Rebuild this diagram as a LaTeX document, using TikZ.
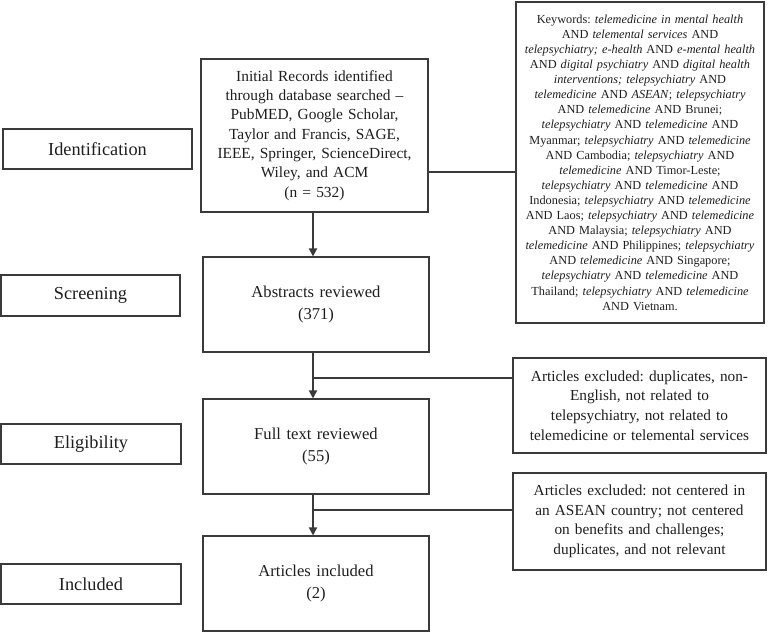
\documentclass[tikz,border=0pt]{standalone}
\usepackage{fontspec}
\setmainfont{Liberation Serif}
\usetikzlibrary{arrows.meta}
\definecolor{ln}{HTML}{3A3A3A}
\definecolor{tx}{HTML}{1E1E1E}
\frenchspacing
\tikzset{
  bx/.style={draw=ln, line width=1.1pt, inner xsep=0pt, inner ysep=0pt, align=center, text=tx},
  stagebox/.style={bx, font=\fontsize{18.3}{22}\selectfont},
  mainbox/.style={bx, font=\fontsize{16.6}{22.5}\selectfont},
  initbox/.style={bx, font=\fontsize{15.4}{19.3}\selectfont},
  kwbox/.style={bx, font=\fontsize{12.3}{15.1}\selectfont},
  exbox/.style={bx, font=\fontsize{15.3}{19.6}\selectfont},
  arr/.style={draw=ln, line width=1.8pt, -{Triangle[length=8pt,width=8pt]}},
  conn/.style={draw=ln, line width=1.1pt},
}
\begin{document}
\begin{tikzpicture}[x=1pt,y=-1pt]
\useasboundingbox (0,0) rectangle (768,632);
% stage labels
\node[stagebox, text width=189pt, minimum height=40pt] (ident) at (97.5,149) {Identification};
\node[stagebox, text width=179pt, minimum height=41pt] (screen) at (90.5,295.5) {Screening};
\node[stagebox, text width=180pt, minimum height=40pt] (elig) at (91,444) {Eligibility};
\node[stagebox, text width=180pt, minimum height=40pt] (incl) at (91,584) {Included};
% main flow
\node[initbox, text width=227pt, minimum height=153pt] (init) at (314.5,135.5) {Initial Records identified\\through database searched --\\PubMED, Google Scholar,\\Taylor and Francis, SAGE,\\IEEE, Springer, ScienceDirect,\\Wiley, and ACM\\(n = 532)};
\node[mainbox, text width=226pt, minimum height=95pt] (abs) at (316,304.5) {Abstracts reviewed\\(371)};
\node[mainbox, text width=226pt, minimum height=95pt] (full) at (316,446.5) {Full text reviewed\\(55)};
\node[mainbox, text width=226pt, minimum height=95pt] (art) at (316,583.5) {Articles included\\(2)};
% side boxes
\node[kwbox, text width=248pt, minimum height=321pt] (kw) at (640,162.5) {Keywords: \textit{telemedicine in mental health}\\
AND \textit{telemental services} AND\\
\textit{telepsychiatry; e-health} AND \textit{e-mental health}\\
AND \textit{digital psychiatry} AND \textit{digital health}\\
\textit{interventions; telepsychiatry} AND\\
\textit{telemedicine} AND \textit{ASEAN}; \textit{telepsychiatry}\\
AND \textit{telemedicine} AND Brunei;\\
\textit{telepsychiatry} AND \textit{telemedicine} AND\\
Myanmar; \textit{telepsychiatry} AND \textit{telemedicine}\\
AND Cambodia; \textit{telepsychiatry} AND\\
\textit{telemedicine} AND Timor-Leste;\\
\textit{telepsychiatry} AND \textit{telemedicine} AND\\
Indonesia; \textit{telepsychiatry} AND \textit{telemedicine}\\
AND Laos; \textit{telepsychiatry} AND \textit{telemedicine}\\
AND Malaysia; \textit{telepsychiatry} AND\\
\textit{telemedicine} AND Philippines; \textit{telepsychiatry}\\
AND \textit{telemedicine} AND Singapore;\\
\textit{telepsychiatry} AND \textit{telemedicine} AND\\
Thailand; \textit{telepsychiatry} AND \textit{telemedicine}\\
AND Vietnam.};
\node[exbox, text width=253pt, minimum height=95pt] (ex1) at (639.5,405.5) {Articles excluded: duplicates, non-\\English, not related to\\telepsychiatry, not related to\\telemedicine or telemental services};
\node[exbox, text width=253pt, minimum height=97pt] (ex2) at (639.5,521.5) {Articles excluded: not centered in\\an ASEAN country; not centered\\on benefits and challenges;\\duplicates, and not relevant};
% connectors
\coordinate (ax) at (313,0);
\coordinate (k) at (0,172);
\coordinate (j1) at (313,378);
\coordinate (j2) at (313,510);
\draw[arr] (init.south -| ax) -- (abs.north -| ax);
\draw[arr] (abs.south -| ax) -- (full.north -| ax);
\draw[arr] (full.south -| ax) -- (art.north -| ax);
\draw[conn] (k -| init.east) -- (k -| kw.west);
\draw[conn] (j1) -- (j1 -| ex1.west);
\draw[conn] (j2) -- (j2 -| ex2.west);
\end{tikzpicture}
\end{document}
